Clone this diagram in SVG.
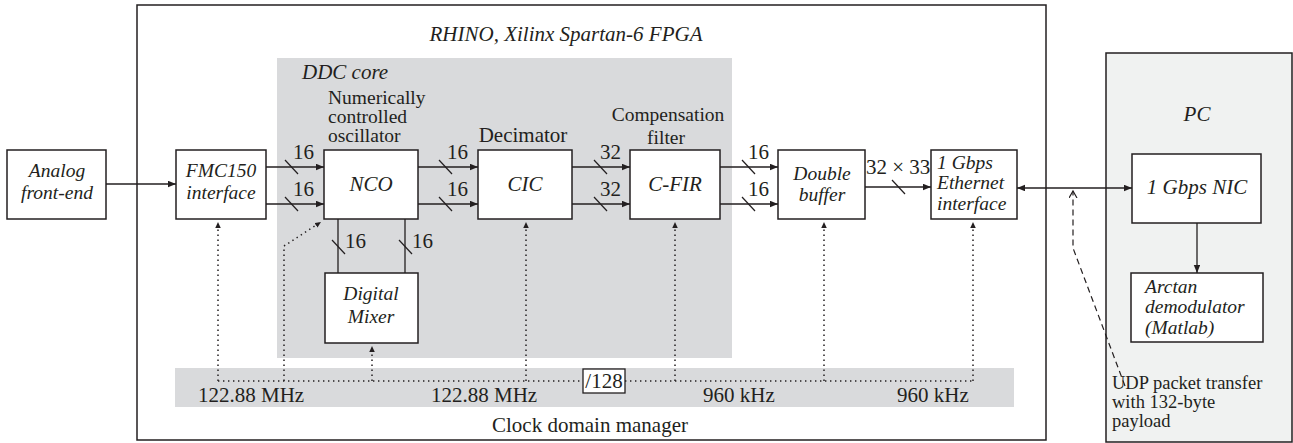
<svg xmlns="http://www.w3.org/2000/svg" width="1293" height="443" viewBox="0 0 1293 443">
<defs>
<marker id="ah" markerUnits="userSpaceOnUse" markerWidth="9" markerHeight="7" refX="8" refY="3.25" orient="auto-start-reverse"><path d="M0,0 L8,3.25 L0,6.5 z" fill="#231f20"/></marker>
<marker id="ahs" markerUnits="userSpaceOnUse" markerWidth="7" markerHeight="6" refX="6" refY="2.75" orient="auto"><path d="M0,0 L6,2.75 L0,5.5 z" fill="#231f20"/></marker>
<marker id="open" markerUnits="userSpaceOnUse" markerWidth="10" markerHeight="10" refX="7" refY="4" orient="auto"><path d="M0,0 L7,4 L0,8" fill="none" stroke="#231f20" stroke-width="1.2"/></marker>
</defs>
<style>
.box{fill:#fff;stroke:#231f20;stroke-width:1.5}
.t{font-family:"Liberation Serif",serif;font-size:21px;fill:#231f20}
.s{font-size:19.5px}
.u{font-size:18.5px}
.m{text-anchor:middle}
.i{font-style:italic}
.ln{stroke:#231f20;stroke-width:1.3;fill:none}
.sl{stroke:#231f20;stroke-width:1.2}
.dot{stroke:#231f20;stroke-width:1.5;fill:none;stroke-dasharray:1.4 3.6}
.dash{stroke:#231f20;stroke-width:1.2;fill:none;stroke-dasharray:6 4}
</style>
<rect width="1293" height="443" fill="#fff"/>

<g id="fpga">
<rect x="137" y="5" width="909" height="435" fill="#fff" stroke="#231f20" stroke-width="1.5"/>
<text class="t i m" x="566" y="41">RHINO, Xilinx Spartan-6 FPGA</text>
</g>
<g id="ddc-core">
<rect x="277" y="58" width="455" height="300" fill="#d9dadc"/>
<text class="t i" x="302" y="79">DDC core</text>
<text class="t s" x="328" y="104">Numerically</text>
<text class="t s" x="328" y="123">controlled</text>
<text class="t s" x="328" y="142">oscillator</text>
<text class="t m" x="523" y="142">Decimator</text>
<text class="t s m" x="668" y="121">Compensation</text>
<text class="t s m" x="666" y="144">filter</text>
</g>
<g id="clock-domain-manager">
<rect x="175" y="368" width="839" height="39" fill="#d9dadc"/>
<text class="t" x="198" y="402">122.88 MHz</text>
<text class="t" x="431" y="402">122.88 MHz</text>
<text class="t" x="703" y="402">960 kHz</text>
<text class="t" x="897" y="402">960 kHz</text>
<text class="t m" x="590" y="432">Clock domain manager</text>
</g>
<g id="pc">
<rect x="1106" y="53" width="186" height="389" fill="#f0f2f1" stroke="#231f20" stroke-width="1.5"/>
<text class="t i m" x="1197" y="121">PC</text>
<text class="t u" x="1112" y="389">UDP packet transfer</text>
<text class="t u" x="1112" y="408">with 132-byte</text>
<text class="t u" x="1112" y="427">payload</text>
</g>

<g id="analog">
<rect class="box" x="7" y="150" width="99" height="69"/>
<text class="t s i m" x="57" y="177">Analog</text>
<text class="t s i m" x="57" y="199">front-end</text>
</g>
<g id="fmc150">
<rect class="box" x="176" y="150" width="90" height="69"/>
<text class="t s i m" x="221" y="177">FMC150</text>
<text class="t s i m" x="221" y="199">interface</text>
</g>
<g id="nco">
<rect class="box" x="324" y="150" width="94" height="69"/>
<text class="t i m" x="371" y="191">NCO</text>
</g>
<g id="cic">
<rect class="box" x="478" y="150" width="94" height="69"/>
<text class="t i m" x="525" y="191">CIC</text>
</g>
<g id="cfir">
<rect class="box" x="630" y="150" width="90" height="69"/>
<text class="t i m" x="675" y="191">C-FIR</text>
</g>
<g id="double-buffer">
<rect class="box" x="778" y="150" width="87" height="69"/>
<text class="t s i m" x="822" y="180">Double</text>
<text class="t s i m" x="822" y="201">buffer</text>
</g>
<g id="ethernet">
<rect class="box" x="931" y="150" width="86" height="69"/>
<text class="t s i" x="937" y="169">1 Gbps</text>
<text class="t s i" x="937" y="189">Ethernet</text>
<text class="t s i" x="937" y="210">interface</text>
</g>
<g id="mixer">
<rect class="box" x="325" y="273" width="93" height="70"/>
<text class="t s i m" x="371" y="300">Digital</text>
<text class="t s i m" x="371" y="323">Mixer</text>
</g>
<g id="nic">
<rect class="box" x="1132" y="154" width="129" height="69"/>
<text class="t i m" x="1197" y="194">1 Gbps NIC</text>
</g>
<g id="arctan">
<rect class="box" x="1131" y="273" width="132" height="69"/>
<text class="t s i" x="1145" y="293">Arctan</text>
<text class="t s i" x="1145" y="313">demodulator</text>
<text class="t s i" x="1145" y="334">(Matlab)</text>
</g>

<g id="connectors">
<line class="ln" x1="106" y1="184" x2="176" y2="184" marker-end="url(#ah)"/>
<line class="ln" x1="266" y1="167" x2="324" y2="167" marker-end="url(#ah)"/>
<line class="ln" x1="266" y1="204" x2="324" y2="204" marker-end="url(#ah)"/>
<line class="ln" x1="418" y1="167" x2="478" y2="167" marker-end="url(#ah)"/>
<line class="ln" x1="418" y1="204" x2="478" y2="204" marker-end="url(#ah)"/>
<line class="ln" x1="572" y1="167" x2="630" y2="167" marker-end="url(#ah)"/>
<line class="ln" x1="572" y1="204" x2="630" y2="204" marker-end="url(#ah)"/>
<line class="ln" x1="720" y1="167" x2="778" y2="167" marker-end="url(#ah)"/>
<line class="ln" x1="720" y1="204" x2="778" y2="204" marker-end="url(#ah)"/>
<line class="ln" x1="865" y1="187" x2="931" y2="187" marker-end="url(#ah)"/>
<line class="ln" x1="1017" y1="188" x2="1132" y2="188" marker-start="url(#ah)" marker-end="url(#ah)"/>
<line class="ln" x1="1197" y1="223" x2="1197" y2="273" marker-end="url(#ah)"/>
<line class="ln" x1="338" y1="219" x2="338" y2="273"/>
<line class="ln" x1="405" y1="219" x2="405" y2="273"/>
<g class="sl">
<line x1="285" y1="160" x2="298" y2="174"/>
<line x1="285" y1="197" x2="298" y2="211"/>
<line x1="439" y1="160" x2="452" y2="174"/>
<line x1="439" y1="197" x2="452" y2="211"/>
<line x1="594" y1="160" x2="607" y2="174"/>
<line x1="594" y1="197" x2="607" y2="211"/>
<line x1="742" y1="160" x2="755" y2="174"/>
<line x1="742" y1="197" x2="755" y2="211"/>
<line x1="892" y1="180" x2="905" y2="194"/>
<line x1="332" y1="240" x2="345" y2="254"/>
<line x1="399" y1="240" x2="412" y2="254"/>
</g>
<text class="t" x="293" y="159">16</text>
<text class="t" x="293" y="196">16</text>
<text class="t" x="447" y="159">16</text>
<text class="t" x="447" y="196">16</text>
<text class="t" x="600" y="159">32</text>
<text class="t" x="600" y="196">32</text>
<text class="t" x="748" y="159">16</text>
<text class="t" x="748" y="196">16</text>
<text class="t" x="866" y="174">32 × 33</text>
<text class="t" x="345" y="248">16</text>
<text class="t" x="412" y="248">16</text>
<line class="dot" x1="218" y1="381" x2="583" y2="381"/>
<line class="dot" x1="625" y1="381" x2="973" y2="381"/>
<line class="dot" x1="218" y1="381" x2="218" y2="222" marker-end="url(#ahs)"/>
<polyline class="dot" points="284,381 284,246 321,222" marker-end="url(#ahs)"/>
<line class="dot" x1="372" y1="381" x2="372" y2="346" marker-end="url(#ahs)"/>
<line class="dot" x1="526" y1="381" x2="526" y2="222" marker-end="url(#ahs)"/>
<line class="dot" x1="675" y1="381" x2="675" y2="222" marker-end="url(#ahs)"/>
<line class="dot" x1="824" y1="381" x2="824" y2="222" marker-end="url(#ahs)"/>
<line class="dot" x1="973" y1="381" x2="973" y2="222" marker-end="url(#ahs)"/>
<rect x="583" y="369" width="42" height="24" fill="#fff" stroke="#231f20" stroke-width="1.3"/>
<text class="t m" x="604" y="388">/128</text>
<polyline class="dash" points="1125,386 1073,248 1073,191" marker-end="url(#open)"/>
</g>
</svg>
